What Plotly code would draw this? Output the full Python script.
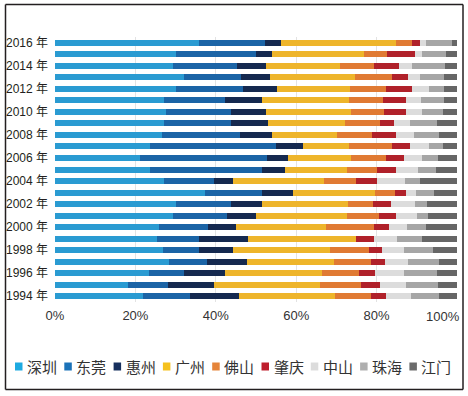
import plotly.graph_objects as go

years = list(range(1994, 2017))
cities = ["深圳", "东莞", "惠州", "广州", "佛山", "肇庆", "中山", "珠海", "江门"]
colors = ["#2A9BD2", "#1B64A6", "#15294F", "#EEB52B", "#E07A33",
          "#B0212A", "#DCDCDC", "#A6A6A6", "#666666"]
legend_colors = ["#1EAAE1", "#1B72B8", "#17305E", "#F5C11E", "#E5843A",
                 "#BE1E2D", "#DCDCDC", "#AFAFAF", "#6B6B6B"]

shenzhen = [21.8, 18.1, 23.4, 28.3, 26.9, 25.4, 26.3, 29.3, 30.2, 37.3, 27.1, 23.7,
            21.2, 23.7, 26.6, 27.1, 27.7, 27.1, 30.0, 32.0, 29.3, 30.0, 35.9]
dongguan = [11.9, 9.9, 8.8, 9.4, 8.8, 10.3, 12.6, 13.5, 13.7, 14.3, 12.5, 27.9,
            31.5, 31.3, 19.3, 16.8, 16.2, 15.2, 16.7, 14.2, 15.9, 20.1, 16.3]
huizhou = [12.0, 11.6, 10.2, 10.1, 8.7, 12.4, 7.0, 7.1, 7.6, 7.6, 4.8, 5.6,
           5.3, 6.7, 8.2, 9.1, 8.5, 9.3, 8.5, 7.2, 7.4, 3.9, 3.9]
guangzhou = [23.9, 26.4, 23.9, 21.6, 23.9, 26.7, 22.9, 22.7, 21.4, 20.3, 22.5, 15.5,
             15.7, 11.4, 16.0, 19.2, 21.3, 21.5, 18.2, 21.2, 18.2, 22.9, 28.7]
foshan = [8.9, 10.0, 9.3, 9.1, 9.9, 0.0, 12.2, 8.1, 6.1, 5.0, 7.9, 7.3,
          8.7, 10.7, 8.7, 8.7, 8.2, 8.5, 8.9, 9.3, 8.6, 5.8, 3.9]
zhaoqing = [3.9, 4.8, 4.1, 3.7, 3.1, 4.6, 3.8, 4.1, 4.5, 2.7, 5.2, 4.8,
            4.3, 4.4, 6.0, 3.4, 5.3, 5.6, 6.4, 4.0, 6.1, 6.9, 2.0]
zhongshan = [6.1, 6.4, 7.0, 5.5, 5.4, 5.7, 4.4, 5.3, 6.1, 2.5, 7.0, 5.4,
             4.5, 4.8, 4.4, 3.9, 4.0, 3.8, 4.3, 3.0, 3.4, 1.8, 1.5]
zhuhai = [7.0, 8.0, 8.2, 7.8, 7.3, 6.2, 5.0, 2.6, 2.9, 4.7, 3.7, 4.5,
          4.0, 3.6, 6.3, 6.7, 5.2, 5.7, 3.7, 5.8, 8.0, 5.9, 6.5]
jiangmen = [4.5, 4.8, 5.1, 4.5, 6.0, 8.7, 7.8, 7.3, 7.5, 5.6, 9.3, 5.3,
            4.8, 3.4, 4.5, 5.1, 3.6, 3.3, 3.3, 3.3, 3.1, 2.7, 1.3]

series = [shenzhen, dongguan, huizhou, guangzhou, foshan,
          zhaoqing, zhongshan, zhuhai, jiangmen]

tick_years = list(range(1994, 2017, 2))
tick_text = [f"{y} 年" for y in tick_years]
x_ticks = [0, 20, 40, 60, 80, 100]
x_text = ["0%", "20%", "40%", "60%", "80%", "100%"]

W, H = 468, 396
L, R, T, B = 55, 11, 37, 94
pw, ph = W - L - R, H - T - B


def px(x):
    return (x - L) / pw


def py(y):
    return (H - B - y) / ph


fig = go.Figure()
for name, vals, col in zip(cities, series, colors):
    fig.add_trace(go.Bar(
        y=years, x=vals, name=name, orientation="h",
        marker=dict(color=col, line=dict(width=0)),
        width=0.52, showlegend=False, hoverinfo="skip",
    ))

frame = dict(xref="paper", yref="paper", line=dict(color="#231F20", width=1.5), layer="above")
fx0, fx1, fy0, fy1 = px(5.5), px(463), py(4.5), py(389.5)
shapes = [
    dict(type="line", x0=fx0, x1=fx1, y0=fy0, y1=fy0, **frame),
    dict(type="line", x0=fx0, x1=fx1, y0=fy1, y1=fy1, **frame),
    dict(type="line", x0=fx0, x1=fx0, y0=fy0, y1=fy1, **frame),
    dict(type="line", x0=fx1, x1=fx1, y0=fy0, y1=fy1, **frame),
]
annotations = [dict(xref="paper", yref="paper", x=px(462), y=py(316), text=x_text[-1],
                    showarrow=False, xanchor="right", yanchor="middle",
                    font=dict(size=13, color="#333333"))]
step = 49.3
for i, (name, col) in enumerate(zip(cities, legend_colors)):
    x0 = 15 + i * step
    shapes.append(dict(type="rect", xref="paper", yref="paper",
                       x0=px(x0), x1=px(x0 + 7.5), y0=py(362.5), y1=py(370.5),
                       line=dict(width=0), fillcolor=col))
    annotations.append(dict(xref="paper", yref="paper", x=px(x0 + 10), y=py(366.5),
                            text=name, showarrow=False, xanchor="left", yanchor="middle",
                            font=dict(size=15, color="#333333",
                                      family="Noto Sans CJK SC, Liberation Sans, sans-serif")))

fig.update_layout(
    template="none",
    width=W, height=H, autosize=False,
    margin=dict(l=L, r=R, t=T, b=B, pad=0),
    barmode="stack", barnorm="percent",
    paper_bgcolor="white", plot_bgcolor="white",
    font=dict(family="Liberation Sans, Noto Sans CJK SC, sans-serif", color="#231F20"),
    xaxis=dict(range=[0, 100], tickvals=x_ticks, ticktext=x_text[:-1] + [""],
               automargin=False,
               showgrid=True, gridcolor="#E3E3E3", gridwidth=1, zeroline=False,
               showline=False, ticks="", ticklabelstandoff=4,
               tickfont=dict(size=13, color="#333333")),
    yaxis=dict(range=[1993.5, 2016.5], tickvals=tick_years, ticktext=tick_text,
               automargin=False,
               showgrid=False, zeroline=False, showline=False, ticks="",
               ticklabelstandoff=6,
               tickfont=dict(size=12, color="#231F20",
                             family="Liberation Sans, Noto Sans CJK SC, sans-serif")),
    shapes=shapes, annotations=annotations,
    showlegend=False,
)

fig.write_html("out.html", config={"displayModeBar": False},
               post_script="document.body.style.margin='0';")
